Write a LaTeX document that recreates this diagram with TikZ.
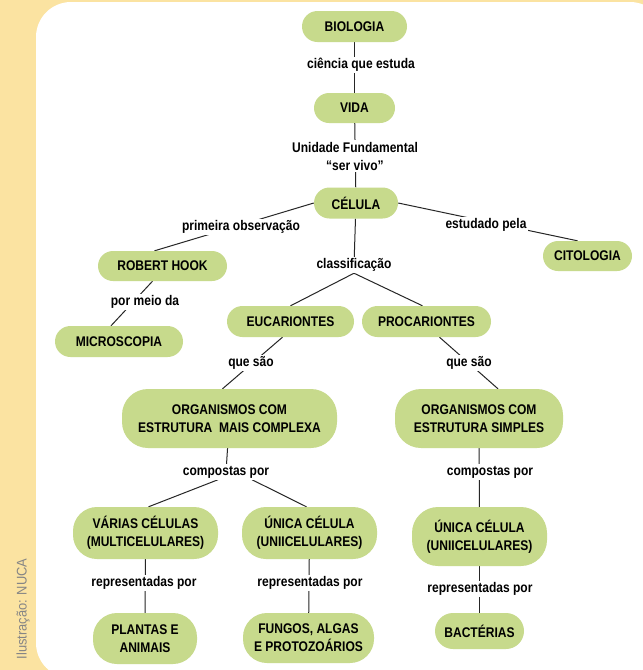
\documentclass[tikz,border=0pt]{standalone}
\usepackage{fontspec}
\setmainfont{Liberation Sans}[FakeStretch=0.86]
\newfontfamily\creditfont{Liberation Sans}[FakeStretch=0.92]
\definecolor{cream}{HTML}{FBE3A1}
\definecolor{leaf}{HTML}{C7DA8C}
\definecolor{credit}{HTML}{858585}
\pgfdeclarelayer{panel}
\pgfdeclarelayer{links}
\pgfsetlayers{panel,links,main}
\begin{document}
\begin{tikzpicture}[x=1pt,y=-1pt,
  concept/.style={fill=leaf, inner sep=0pt, align=center,
    font=\bfseries\fontsize{14}{18}\selectfont},
  pill/.style n args={3}{minimum width=#1pt, minimum height=#2pt, rounded corners=#3pt},
  lbl/.style={fill=white, inner sep=1.5pt, align=center,
    font=\bfseries\fontsize{14}{18}\selectfont},
  link/.style={draw=black!85, line width=1pt}]
\useasboundingbox (0,0) rectangle (643,670);
\begin{pgfonlayer}{panel}
  \fill[cream] (0,0) rectangle (643,670);
  \fill[white, rounded corners=35pt] (36,2) rectangle (665,678);
\end{pgfonlayer}
\node[rotate=90, text=credit, font=\creditfont\fontsize{14}{16}\selectfont] (credit) at (23,609) {Ilustração: NUCA};

% concepts
\node[concept, pill={105}{31}{15.5}] (bio) at (354.5,26.5) {BIOLOGIA};
\node[concept, pill={81}{30}{15}] (vida) at (354.5,108) {VIDA};
\node[concept, pill={84}{31}{15.5}] (cel) at (356,203) {CÉLULA};
\node[concept, pill={89}{30}{15}] (cito) at (587.5,256) {CITOLOGIA};
\node[concept, pill={129}{30}{15}] (hook) at (162.5,266) {ROBERT HOOK};
\node[concept, pill={128}{31}{15.5}] (micro) at (119,341.5) {MICROSCOPIA};
\node[concept, pill={127}{31}{15.5}] (euc) at (290.5,321.5) {EUCARIONTES};
\node[concept, pill={129}{31}{15.5}] (proc) at (426.5,321.5) {PROCARIONTES};
\node[concept, pill={215}{59}{26}] (comp) at (229.5,418.5) {ORGANISMOS COM\\ESTRUTURA\ \ MAIS COMPLEXA};
\node[concept, pill={168}{59}{26}] (simp) at (479,418.5) {ORGANISMOS COM\\ESTRUTURA SIMPLES};
\node[concept, pill={145}{52}{24}] (varias) at (145.5,533) {VÁRIAS CÉLULAS\\(MULTICELULARES)};
\node[concept, pill={135}{52}{24}] (unica1) at (309.5,533) {ÚNICA CÉLULA\\(UNIICELULARES)};
\node[concept, pill={135}{59}{26}] (unica2) at (479.5,536.5) {ÚNICA CÉLULA\\(UNIICELULARES)};
\node[concept, pill={104}{51}{24}] (plantas) at (145,638.5) {PLANTAS E\\ANIMAIS};
\node[concept, pill={131}{50}{24}] (fungos) at (308.5,638) {FUNGOS, ALGAS\\E PROTOZOÁRIOS};
\node[concept, pill={89}{36}{18}] (bact) at (479.5,631) {BACTÉRIAS};

% labels
\node[lbl] (lcie) at (361,65) {ciência que estuda};
\node[lbl] (lunid) at (355,156) {Unidade Fundamental\\“ser vivo”};
\node[lbl] (lobs) at (241,227) {primeira observação};
\node[lbl] (lcit) at (486,225) {estudado pela};
\node[lbl] (lclass) at (354,265) {classificação};
\node[lbl] (lmeio) at (145,302) {por meio da};
\node[lbl] (lque1) at (251,363) {que são};
\node[lbl] (lque2) at (469,363) {que são};
\node[lbl] (lcomp1) at (226,472) {compostas por};
\node[lbl] (lcomp2) at (490,472) {compostas por};
\node[lbl] (lrep1) at (144,583) {representadas por};
\node[lbl] (lrep2) at (310,583) {representadas por};
\node[lbl] (lrep3) at (480,589) {representadas por};

% connectors
\begin{pgfonlayer}{links}
  \draw[link] (bio) -- (vida);
  \draw[link] (vida) -- (cel);
  \draw[link] (cel.west) -- ([xshift=-8pt]hook.north);
  \draw[link] (cel.east) -- ([xshift=-10pt]cito.north);
  \draw[link] (cel) -- (lclass);
  \draw[link] (lclass.south) -- (euc.north);
  \draw[link] (lclass.south) -- ([xshift=-4pt]proc.north);
  \draw[link] ([xshift=-10pt]hook.south) -- ([xshift=-8pt]micro.north);
  \draw[link] ([xshift=-8pt]euc.south) -- ([xshift=-7pt]comp.north);
  \draw[link] ([xshift=13pt]proc.south) -- ([xshift=19pt]simp.north);
  \draw[link] (comp) -- (lcomp1);
  \draw[link] ([xshift=-8pt]lcomp1.south) -- ([xshift=3pt]varias.north);
  \draw[link] ([xshift=26pt]lcomp1.south) -- ([xshift=-3pt]unica1.north);
  \draw[link] (simp) -- (unica2);
  \draw[link] (varias) -- (plantas);
  \draw[link] (unica1) -- (fungos);
  \draw[link] (unica2) -- (bact);
\end{pgfonlayer}
\end{tikzpicture}
\end{document}
